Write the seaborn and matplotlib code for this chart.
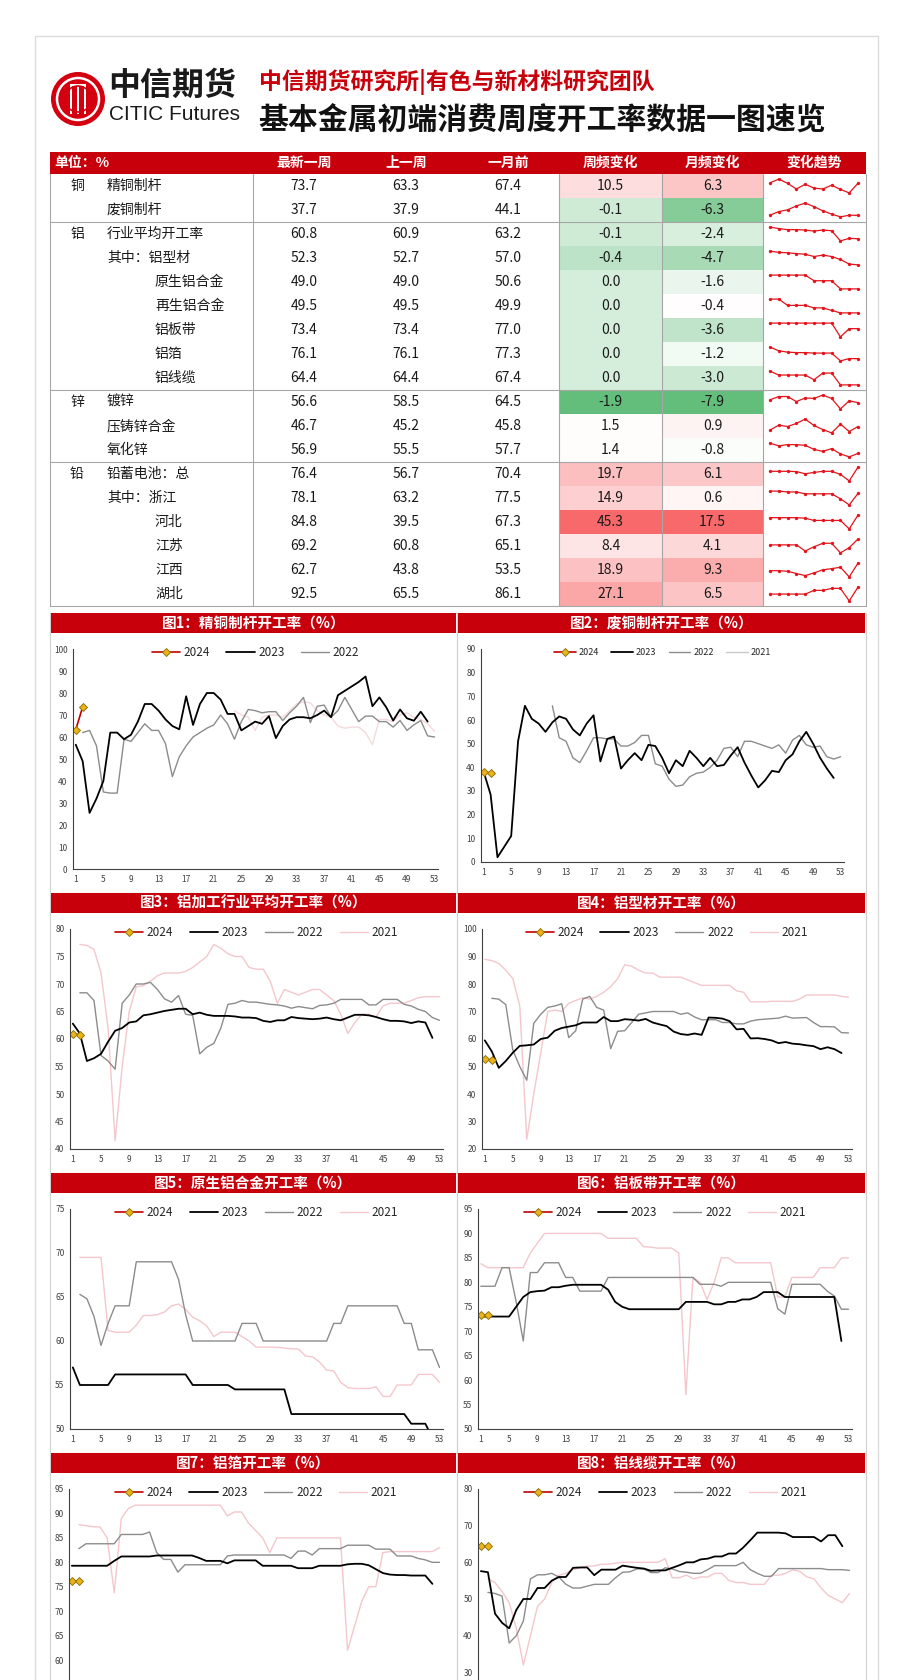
import numpy as np
import pandas as pd
import matplotlib
matplotlib.use("Agg")
import matplotlib.pyplot as plt
import seaborn as sns
from matplotlib.patches import Rectangle, Circle
from matplotlib.lines import Line2D
from matplotlib.colors import LinearSegmentedColormap, TwoSlopeNorm

nan = np.nan
W, H = 915, 1680

# -----------------------------
# Table data
# -----------------------------
metals = ["铜", "", "铝", "", "", "", "", "", "", "锌", "", "", "铅", "", "", "", "", ""]
items = ["精铜制杆", "废铜制杆", "行业平均开工率", "其中：铝型材", "原生铝合金", "再生铝合金",
         "铝板带", "铝箔", "铝线缆", "镀锌", "压铸锌合金", "氧化锌", "铅蓄电池：总",
         "其中：浙江", "河北", "江苏", "江西", "湖北"]
sub_items = [0, 0, 0, 0, 1, 1, 1, 1, 1, 0, 0, 0, 0, 0, 1, 1, 1, 1]
latest = [73.7, 37.7, 60.8, 52.3, 49.0, 49.5, 73.4, 76.1, 64.4, 56.6, 46.7, 56.9, 76.4, 78.1, 84.8, 69.2, 62.7, 92.5]
prev_week = [63.3, 37.9, 60.9, 52.7, 49.0, 49.5, 73.4, 76.1, 64.4, 58.5, 45.2, 55.5, 56.7, 63.2, 39.5, 60.8, 43.8, 65.5]
month_ago = [67.4, 44.1, 63.2, 57.0, 50.6, 49.9, 77.0, 77.3, 67.4, 64.5, 45.8, 57.7, 70.4, 77.5, 67.3, 65.1, 53.5, 86.1]
wow_change = [10.5, -0.1, -0.1, -0.4, 0.0, 0.0, 0.0, 0.0, 0.0, -1.9, 1.5, 1.4, 19.7, 14.9, 45.3, 8.4, 18.9, 27.1]
mom_change = [6.3, -6.3, -2.4, -4.7, -1.6, -0.4, -3.6, -1.2, -3.0, -7.9, 0.9, -0.8, 6.1, 0.6, 17.5, 4.1, 9.3, 6.5]

# last 11 weekly readings behind each sparkline
trend_rows = [
    [74, 78, 73.5, 67.5, 72.5, 68.5, 67.4, 71.5, 67, 63.3, 73.7],
    [38, 43, 45.5, 51, 55, 50, 44.1, 39.5, 35.5, 37.9, 37.7],
    [64.0, 63.6, 63.3, 63.3, 63.2, 62.9, 63.2, 63.0, 60.2, 60.9, 60.8],
    [58.9, 58.3, 58.1, 57.7, 57.4, 56.3, 57.0, 56.3, 54.9, 52.7, 52.3],
    [51.7, 51.7, 51.7, 51.7, 51.7, 50.6, 50.6, 50.6, 49.0, 49.0, 49.0],
    [50.6, 50.6, 50.1, 50.1, 50.1, 49.9, 49.9, 49.7, 49.5, 49.5, 49.5],
    [77.0, 77.0, 77.0, 77.0, 77.0, 77.0, 77.0, 77.0, 68.0, 73.4, 73.4],
    [78.6, 77.8, 77.5, 77.4, 77.4, 77.3, 77.3, 77.3, 75.6, 76.1, 76.1],
    [67.9, 66.9, 66.9, 66.9, 66.9, 65.7, 67.4, 67.4, 64.4, 64.4, 64.4],
    [59.5, 63, 63, 57.7, 61.5, 61, 64.5, 61, 50, 58.5, 56.6],
    [45.6, 47.1, 46.7, 47.6, 48.9, 47.0, 45.8, 44.8, 47.4, 45.2, 46.7],
    [61.0, 59.9, 60.4, 60.4, 60.1, 58.5, 57.7, 58.8, 56.7, 55.5, 56.9],
    [70.4, 70.4, 70.4, 70.0, 66.9, 68.8, 70.4, 70.4, 66.0, 56.7, 76.4],
    [81.0, 81.0, 79.9, 79.9, 77.5, 77.5, 77.5, 77.5, 71.1, 63.2, 78.1],
    [76.4, 76.4, 76.4, 76.4, 74.6, 67.3, 67.3, 67.3, 67.3, 39.5, 84.8],
    [63.5, 63.5, 63.5, 63.5, 57.5, 61.6, 65.1, 65.1, 55.6, 60.8, 69.2],
    [52.3, 52.3, 51.5, 48.4, 45.6, 49.2, 53.5, 55.1, 57.0, 43.8, 62.7],
    [78.8, 78.8, 78.8, 78.8, 78.8, 86.1, 86.1, 90, 90, 65.5, 92.5],
]

# -----------------------------
# Weekly chart data (week 1..53)
# -----------------------------
weeks = list(range(1, 54))

c1_2024 = [63.3, 73.7]
c1_2023 = [56.5, 49, 25.5, 32, 40, 62, 62, 59, 61, 67, 75, 75, 72, 68, 65, 63.5, 78.5, 65.5, 75, 80,
           80, 77, 70.5, 70.5, 63, 65, 67, 66, 69.5, 59.5, 65, 68, 69, 69, 68.5, 70, 72, 69, 79, 81,
           83, 85, 87.5, 74, 78, 73.5, 67.5, 72.5, 68.5, 67.4, 71.5, 67]
c1_2022 = [nan, 62, 63, 56, 35, 34.5, 34.5, 59, 58, 62, 66, 63, 63, 57, 42, 51, 56, 60, 62, 64,
           65.5, 70, 66, 59, 67, 72.5, 72, 71, 71.5, 71.5, 67.5, 71, 74, 78, 66.5, 74, 74.5, 69, 72, 78,
           72.5, 67, 69.5, 69.5, 67, 67, 64.5, 67.5, 63, 65.5, 67.5, 60.5, 60]
c1_2021 = [nan, nan, nan, nan, nan, nan, nan, nan, nan, nan, nan, nan, nan, nan, nan, nan, nan, nan, nan, nan,
           nan, nan, nan, 72, 70, 69, 63, 69, 70, 70, 69, 72, 75, 76, 75.5, 72, 70, 69, 65, 64,
           64.5, 64.5, 62, 56.5, 68, 68, 67, 70, 71, 69, 68, 66, 62.5]

c2_2024 = [37.9, 37.7]
c2_2023 = [38, 28.5, 2, 6.5, 11, 51, 66, 60.5, 58.5, 55, 59, 61.5, 60.5, 56, 53.5, 58.5, 62, 42.5, 52, 53,
           39.5, 43, 46, 43, 49.5, 49, 44, 37.5, 43, 40.5, 47, 44, 40.5, 44, 40.5, 41, 45, 48.5, 42, 36.5,
           31.5, 34.5, 38.5, 38, 43, 45.5, 51, 55, 50, 44.1, 39.5, 35.5]
c2_2022 = [nan, nan, nan, nan, nan, nan, nan, nan, nan, nan, 66, 52.5, 51, 44, 42, 47, 52.5, 52.5, 52, 52,
           49, 49, 50.5, 53.5, 53.5, 41.5, 40.5, 35, 32, 32.5, 36, 37.5, 38, 40, 43, 48, 48.5, 44.5, 51, 51,
           50, 49, 48, 49.5, 46, 51.5, 53.5, 49.5, 48.5, 49, 44.5, 43.5, 44.5]
c2_2021 = []

c3_2024 = [60.9, 60.8]
c3_2023 = [62.8, 61, 56, 56.5, 57.3, 59.5, 61.5, 62, 63, 63.2, 64.3, 64.5, 64.8, 65.1, 65.3, 65.5, 65.5, 64.5, 64.8, 64.4,
           64.2, 64.2, 64.2, 64.1, 63.9, 63.9, 63.8, 63.3, 63.1, 63.4, 63.4, 64.0, 63.8, 63.7, 63.6, 63.7, 63.9, 63.6, 63.4, 63.9,
           64.4, 64.4, 64.3, 64.0, 63.6, 63.3, 63.3, 63.2, 62.9, 63.2, 63.0, 60.2]
c3_2022 = [nan, 68.4, 68.4, 67, 57, 56, 54.5, 66.5, 68, 70, 70, 70.3, 69, 67.3, 66.7, 67.9, 64.5, 64.3, 57.3, 58.5,
           59.2, 62, 66.3, 66.5, 67, 66.7, 66.7, 66.5, 66.3, 66.2, 66, 65.6, 65.9, 65.7, 65.5, 66.1, 66.2, 66.5, 67.2, 67.2,
           67.2, 67.2, 66.2, 66.2, 67.2, 67.2, 67.2, 66.3, 66, 65.4, 65, 63.9, 63.4]
c3_2021 = [nan, 77.2, 77, 76.3, 72, 62, 41.5, 55, 65, 69.5, 69.7, 70.5, 71.5, 72, 72, 72, 72.3, 73, 74, 75,
           77.2, 76.5, 75.5, 75, 75, 73, 72.7, 72.7, 70.5, 66.5, 69, 68.5, 68, 68.5, 69, 69, 68, 67, 64.5, 61,
           63, 64.5, 64.5, 64, 66, 66.5, 66.5, 66.5, 67, 67.5, 67.7, 67.7, 67.7]

c4_2024 = [52.7, 52.3]
c4_2023 = [59.5, 55.5, 49.5, 52, 55, 57.5, 57.7, 58, 60, 60.5, 63, 64, 64.5, 65, 66, 66, 66, 68, 66.5, 66.5,
           67.2, 67, 66.7, 67.3, 66, 65.3, 64.7, 62.7, 61.8, 61.5, 62, 61.5, 67.8, 67.7, 67.4, 66.5, 63.5, 63.7, 60.2, 60.3,
           60, 59.5, 58.5, 58.9, 58.3, 58.1, 57.7, 57.4, 56.3, 57.0, 56.3, 54.9]
c4_2022 = [nan, 74.8, 74.5, 72.5, 56, 50, 45, 65.7, 69, 71.5, 72, 72.8, 60.5, 63, 74.5, 75.5, 71.5, 70.5, 56.5, 62.8,
           63, 66, 69, 69.5, 70, 70, 70, 70, 69, 69.5, 68, 67, 67, 67, 66, 66, 65.5, 65.5, 66.5, 67,
           67.2, 67.4, 67.6, 68.3, 67.6, 67.7, 67.8, 66, 64.5, 64.5, 64.4, 62.3, 62.2]
c4_2021 = [89, 88.5, 87.5, 85, 82, 72, 23.5, 40, 55, 70, 70.5, 70, 73, 74, 75, 74.5, 75.5, 77, 79, 82,
           87, 86.5, 85, 84, 84, 82.5, 82.5, 82.5, 82.5, 81.5, 80.5, 79.5, 79.5, 79.5, 79.5, 79.5, 77.5, 77, 73.5, 73.5,
           73.5, 73.7, 73.7, 73.7, 73.7, 74.5, 76, 76, 76, 76, 76, 75.5, 75.2]

c5_2024 = [49.0, 49.0]
c5_2023 = [57, 55, 55, 55, 55, 55, 56.2, 56.2, 56.2, 56.2, 56.2, 56.2, 56.2, 56.2, 56.2, 56.2, 56.2, 55, 55, 55,
           55, 55, 55, 54.5, 54.5, 54.5, 54.5, 54.5, 54.5, 54.5, 54.5, 51.7, 51.7, 51.7, 51.7, 51.7, 51.7, 51.7, 51.7, 51.7,
           51.7, 51.7, 51.7, 51.7, 51.7, 51.7, 51.7, 51.7, 50.6, 50.6, 50.6, 49.0]
c5_2022 = [nan, 65.3, 64.8, 62.8, 59.5, 62, 64, 64, 64, 69, 69, 69, 69, 69, 69, 67, 63, 60, 60, 60,
           60, 60, 60, 60, 62, 62, 62, 60, 60, 60, 60, 60, 60, 60, 60, 60, 60, 62, 62, 64,
           64, 64, 64, 64, 64, 64, 64, 62, 62, 59, 59, 59, 57]
c5_2021 = [nan, 69.5, 69.5, 69.5, 69.5, 61.2, 61, 61, 61, 61.8, 62.9, 62.9, 63.0, 63.3, 64.0, 64.2, 63.6, 62.7, 62.3, 61.7,
           60.5, 61, 61, 61, 60.5, 60, 59.3, 59.3, 59.3, 59.3, 59.2, 59.1, 59.1, 58.3, 58.2, 57.6, 56.7, 56.6, 55.3, 54.7,
           54.6, 54.6, 54.6, 54.8, 53.7, 53.7, 55, 55, 55, 56.2, 56.2, 56.2, 55.3]

c6_2024 = [73.4, 73.4]
c6_2023 = [73, 73, 73, 73, 73, 75, 77, 78, 78.2, 78.3, 79, 79, 79.3, 79.5, 79.5, 79.5, 79.5, 79.5, 78.5, 76,
           75, 74.5, 74.5, 74.5, 74.5, 74.5, 74.5, 74.5, 74.5, 76, 76, 76, 76, 75.5, 75.5, 76, 76, 76.5, 76.5, 77,
           78, 78, 78, 77.0, 77.0, 77.0, 77.0, 77.0, 77.0, 77.0, 77.0, 68.0]
c6_2022 = [79.2, 79.2, 79.2, 83, 83, 76, 68, 82, 82, 84, 84, 84, 81, 81, 78.2, 78.2, 78.2, 78.2, 81, 81,
           81, 81, 81, 81, 81, 81, 81, 81, 81, 81, 81, 79.6, 79.6, 79.6, 79.2, 80, 80, 80, 80, 80,
           80, 80, 74.6, 73.5, 79.6, 79.6, 79.6, 79.6, 79.6, 78.2, 77.2, 74.5, 74.5]
c6_2021 = [83.8, 83, 83, 83, 83, 83, 83, 86, 88, 90, 90, 90, 90, 90, 90, 90, 90, 90, 89, 89,
           89, 89, 89, 87.3, 87.2, 87, 87, 87, 86, 57, 81, 80, 76.5, 80, 85, 85, 84, 84, 84, 84,
           84, 84, 77, 77, 81, 81, 81, 81, 83, 83, 83, 85, 85]

c7_2024 = [76.1, 76.1]
c7_2023 = [79.3, 79.3, 79.3, 79.3, 79.3, 79.3, 80.3, 81.2, 81.2, 81.2, 81.2, 81.2, 81.4, 81.4, 81.4, 81.4, 81.4, 81.4, 80.9, 80.3,
           80.3, 80.3, 79.8, 80.4, 80.4, 80.4, 80.4, 79.3, 79.3, 79.3, 79.3, 79.3, 78.8, 78.8, 78.8, 79.3, 79.3, 79.3, 79.3, 79.6,
           79.7, 79.7, 79.4, 78.6, 77.8, 77.5, 77.4, 77.4, 77.3, 77.3, 77.3, 75.6]
c7_2022 = [nan, 82.8, 83.8, 83.8, 83.8, 83.8, 83.8, 85.7, 85.7, 85.7, 85.7, 86.2, 82, 80.6, 80.6, 78, 79.5, 79.5, 79.5, 79.5,
           79.5, 79.5, 81.3, 81.5, 81.5, 81.5, 81.5, 81.5, 81.5, 81.5, 81.5, 80.8, 82.3, 82.3, 81.5, 82.8, 82.8, 82.8, 82.8, 83.5,
           83.5, 83.5, 83.5, 82.7, 82.7, 82.7, 81.3, 81.3, 81.3, 80.8, 80.5, 80, 80]
c7_2021 = [nan, 87.7, 87.5, 87.3, 87.2, 85, 73.8, 89, 91, 91.7, 91.7, 91.7, 91.7, 91.7, 91.7, 91.7, 91.7, 91.7, 91.7, 91.7,
           91.7, 91.7, 89.5, 90.3, 90.3, 88, 86.5, 85, 82, 85, 85, 85, 85, 85, 85, 85, 85, 85, 85, 62,
           67, 72, 75, 75, 82, 82.2, 82.2, 82.2, 82.2, 82.2, 82.2, 82.2, 83]

c8_2024 = [64.4, 64.4]
c8_2023 = [57.6, 57.3, 46, 43.5, 42, 47, 50, 50, 53, 53, 55, 56, 56, 58.5, 58.6, 58.6, 56.5, 58, 58, 58,
           59.1, 58.8, 58.5, 58.3, 57.7, 57.8, 57.8, 58.5, 59.2, 60, 60, 60.8, 61, 61.6, 61.6, 62.4, 62.4, 64, 66, 68.1,
           68.1, 68.1, 68.1, 67.9, 66.9, 66.9, 66.9, 66.9, 65.7, 67.4, 67.4, 64.4]
c8_2022 = [nan, 51.8, 51.5, 50.8, 38, 40, 44, 55.5, 56.6, 56.6, 57, 56, 54, 53, 53, 53.5, 54, 54, 54, 55.8,
           57.3, 57.4, 58.2, 58.2, 57.2, 57.2, 58.5, 58.2, 57.5, 57.3, 57, 57, 58, 59.1, 59.1, 59.1, 59.1, 60, 58, 57,
           56.2, 56.2, 58.3, 58.3, 58.3, 58.3, 58.3, 58.3, 58.3, 58, 58, 58, 57.8]
c8_2021 = [nan, 55.5, 54.5, 52, 49, 42, 32, 40, 48, 50, 54.5, 56.5, 57, 58, 58.5, 59, 59, 59.5, 59.5, 59.8,
           60, 60, 60, 60, 60, 60, 61, 55.8, 55.8, 56.5, 55.5, 56, 56, 57, 57, 55, 54.5, 54.5, 54, 54,
           54, 56.5, 56.5, 57, 58, 57.5, 56, 55.5, 53, 51, 50, 49, 51.5]

# -----------------------------
# Style
# -----------------------------
sns.set_style("white")
plt.rcParams["font.family"] = ["Noto Sans CJK SC", "DejaVu Sans"]
plt.rcParams["axes.unicode_minus"] = False

RED = "#C8000B"
LINE_2024 = "#C00000"
GOLD = "#E8B41A"
GRAY_LINE = "#a6a6a6"

fig = plt.figure(figsize=(W / 100, H / 100), dpi=100, facecolor="white")
page = fig.add_axes([0, 0, 1, 1])
page.set_xlim(0, W)
page.set_ylim(H, 0)
page.axis("off")


def px_axes(x0, y0, x1, y1):
    return fig.add_axes([x0 / W, 1 - y1 / H, (x1 - x0) / W, (y1 - y0) / H])


def pad(vals):
    return list(vals) + [nan] * (53 - len(vals))


# page frame
page.add_patch(Rectangle((35, 36), 843, 1700, fill=False, ec="#dcdcdc", lw=1))

# -----------------------------
# Logo and titles
# -----------------------------
page.add_patch(Circle((78, 99), 27, fc="#D40010", ec="none"))
page.add_patch(Circle((78, 99), 21, fill=False, ec="white", lw=1.8))
for bx in [69.5, 76.5, 83.5]:
    page.add_patch(Rectangle((bx, 84), 2.6, 30, fc="white", ec="none"))
page.add_patch(Rectangle((72, 84), 14, 2.4, fc="white", ec="none"))
page.add_patch(Circle((78, 99), 13, fill=False, ec="#D40010", lw=1.2))

page.text(108, 86, "中信期货", fontsize=23, fontweight="bold", color="#1a1a1a", ha="left", va="center")
page.text(109, 115, "CITIC Futures", fontsize=15, color="#1a1a1a", ha="left", va="center",
          family=["Liberation Sans Narrow", "Liberation Sans", "DejaVu Sans"])
page.text(259, 82, "中信期货研究所|有色与新材料研究团队", fontsize=16.5, fontweight="bold",
          color=RED, ha="left", va="center")
page.text(258, 121, "基本金属初端消费周度开工率数据一图速览", fontsize=21.5, fontweight="bold",
          color="#111111", ha="left", va="center")

# -----------------------------
# Table
# -----------------------------
TOP, ROW = 174, 24
page.add_patch(Rectangle((50, 152), 816, 22, fc=RED, ec="none"))
header_cols = [("最新一周", 304), ("上一周", 406), ("一月前", 508), ("周频变化", 610),
               ("月频变化", 712), ("变化趋势", 814)]
page.text(54, 163, "单位：%", fontsize=10, fontweight="bold", color="white", ha="left", va="center")
for name, cx in header_cols:
    page.text(cx, 163, name, fontsize=10, fontweight="bold", color="white", ha="center", va="center")

for i in range(len(items)):
    cy = TOP + i * ROW + ROW / 2
    if metals[i]:
        page.text(77, cy, metals[i], fontsize=10, ha="center", va="center", color="#1a1a1a")
    page.text(155 if sub_items[i] else 107, cy, items[i], fontsize=10, ha="left", va="center", color="#1a1a1a")
    for vals, cx in [(latest, 304), (prev_week, 406), (month_ago, 508)]:
        page.text(cx, cy, f"{vals[i]:.1f}", fontsize=10, ha="center", va="center", color="#1a1a1a")

# conditional colour columns
scale_cmap = LinearSegmentedColormap.from_list("scale3", ["#63BE7B", "#FFFFFF", "#F8696B"])
for vals, (x0, x1) in [(wow_change, (559, 662)), (mom_change, (662, 763))]:
    arr = np.array(vals).reshape(-1, 1)
    norm = TwoSlopeNorm(vmin=arr.min(), vcenter=np.median(arr), vmax=arr.max())
    axh = px_axes(x0, TOP, x1, TOP + ROW * len(items))
    sns.heatmap(arr, ax=axh, cmap=scale_cmap, norm=norm, annot=True, fmt=".1f", cbar=False,
                xticklabels=False, yticklabels=False,
                annot_kws={"fontsize": 10, "color": "#1a1a1a"})

# sparklines
for i, pts in enumerate(trend_rows):
    top = TOP + i * ROW
    axs = px_axes(766, top + 4, 862, top + 20)
    sns.lineplot(x=list(range(len(pts))), y=pts, ax=axs, color="#E3141B", linewidth=0.9,
                 marker="o", markersize=2.4, markeredgewidth=0)
    span = max(pts) - min(pts)
    axs.set_ylim(min(pts) - 0.08 * span, max(pts) + 0.08 * span)
    axs.set_xlim(-0.45, len(pts) - 0.55)
    axs.axis("off")

# -----------------------------
# Charts
# -----------------------------
charts = [
    dict(title="图1：精铜制杆开工率（%）", col=0, block=0, box=(73, 649, 438, 869),
         data={"2021": c1_2021, "2022": c1_2022, "2023": c1_2023, "2024": c1_2024},
         ylim=(0, 100), yticks=range(0, 101, 10), legend=["2024", "2023", "2022"], lsize=8.5,
         c2021="#F6D9DC", xlabels=True),
    dict(title="图2：废铜制杆开工率（%）", col=1, block=0, box=(481, 649, 844, 862),
         data={"2021": c2_2021, "2022": c2_2022, "2023": c2_2023, "2024": c2_2024},
         ylim=(0, 90), yticks=range(0, 91, 10), legend=["2024", "2023", "2022", "2021"], lsize=6.5,
         c2021="#c8c8c8", xlabels=True),
    dict(title="图3：铝加工行业平均开工率（%）", col=0, block=1, box=(70, 929, 443, 1149),
         data={"2021": c3_2021, "2022": c3_2022, "2023": c3_2023, "2024": c3_2024},
         ylim=(40, 80), yticks=range(40, 81, 5), legend=["2024", "2023", "2022", "2021"], lsize=8.5,
         c2021="#F4C7CC", xlabels=True),
    dict(title="图4：铝型材开工率（%）", col=1, block=1, box=(482, 929, 852, 1149),
         data={"2021": c4_2021, "2022": c4_2022, "2023": c4_2023, "2024": c4_2024},
         ylim=(20, 100), yticks=range(20, 101, 10), legend=["2024", "2023", "2022", "2021"], lsize=8.5,
         c2021="#F4C7CC", xlabels=True),
    dict(title="图5：原生铝合金开工率（%）", col=0, block=2, box=(70, 1209, 443, 1429),
         data={"2021": c5_2021, "2022": c5_2022, "2023": c5_2023, "2024": c5_2024},
         ylim=(50, 75), yticks=range(50, 76, 5), legend=["2024", "2023", "2022", "2021"], lsize=8.5,
         c2021="#F4C7CC", xlabels=True),
    dict(title="图6：铝板带开工率（%）", col=1, block=2, box=(478, 1209, 852, 1429),
         data={"2021": c6_2021, "2022": c6_2022, "2023": c6_2023, "2024": c6_2024},
         ylim=(50, 95), yticks=range(50, 96, 5), legend=["2024", "2023", "2022", "2021"], lsize=8.5,
         c2021="#F4C7CC", xlabels=True),
    # the last two panels run past the bottom edge of the page; only the visible ticks are labelled
    dict(title="图7：铝箔开工率（%）", col=0, block=3, box=(69, 1489, 443, 1709),
         data={"2021": c7_2021, "2022": c7_2022, "2023": c7_2023, "2024": c7_2024},
         ylim=(50, 95), yticks=range(60, 96, 5), legend=["2024", "2023", "2022", "2021"], lsize=8.5,
         c2021="#F4C7CC", xlabels=False),
    dict(title="图8：铝线缆开工率（%）", col=1, block=3, box=(478, 1489, 853, 1709),
         data={"2021": c8_2021, "2022": c8_2022, "2023": c8_2023, "2024": c8_2024},
         ylim=(20, 80), yticks=range(30, 81, 10), legend=["2024", "2023", "2022", "2021"], lsize=8.5,
         c2021="#F4C7CC", xlabels=False),
]

panel_x = [(50, 457), (457, 866)]
for spec in charts:
    px0, px1 = panel_x[spec["col"]]
    by = 613 + spec["block"] * 280
    # panel outline + red title bar
    page.add_patch(Rectangle((px0, by), px1 - px0, 280, fill=False, ec="#d0d0d0", lw=0.8))
    page.add_patch(Rectangle((px0 + 0.5, by), px1 - px0 - 1.5, 20, fc=RED, ec="none"))
    page.text((px0 + px1) / 2, by + 10, spec["title"], fontsize=10.5, fontweight="bold",
              color="white", ha="center", va="center")

    ax = px_axes(*spec["box"])
    styles = {
        "2021": dict(color=spec["c2021"], linewidth=1.0),
        "2022": dict(color="#8c8c8c", linewidth=1.0),
        "2023": dict(color="black", linewidth=1.3),
        "2024": dict(color=LINE_2024, linewidth=1.2, marker="D", markersize=4.5,
                     markerfacecolor=GOLD, markeredgecolor="#8a6a00", markeredgewidth=0.6),
    }
    for year in ["2021", "2022", "2023", "2024"]:
        df = pd.DataFrame({"week": weeks, "rate": pad(spec["data"][year])}).dropna()
        if df.empty:
            continue
        sns.lineplot(data=df, x="week", y="rate", ax=ax, legend=False, **styles[year])

    ax.set_xlim(0.6, 53.5)
    ax.set_ylim(*spec["ylim"])
    ax.set_yticks(list(spec["yticks"]))
    ax.set_xticks(list(range(1, 54, 4)))
    ax.set_xlabel("")
    ax.set_ylabel("")
    for side in ["top", "right"]:
        ax.spines[side].set_visible(False)
    for side in ["left", "bottom"]:
        ax.spines[side].set_color("#404040")
        ax.spines[side].set_linewidth(0.8)
    ax.tick_params(labelsize=6, colors="#404040", length=2, width=0.6, pad=2)
    if not spec["xlabels"]:
        ax.tick_params(axis="x", labelbottom=False)

    handles = [Line2D([], [], **styles[year]) for year in spec["legend"]]
    ax.legend(handles, spec["legend"], loc="center", bbox_to_anchor=(0.5, 0.985),
              ncol=len(spec["legend"]), frameon=False, fontsize=spec["lsize"],
              handlelength=2.4, handletextpad=0.3, columnspacing=1.4)

# -----------------------------
# Table grid lines on top
# -----------------------------
over = fig.add_axes([0, 0, 1, 1], facecolor="none")
over.set_xlim(0, W)
over.set_ylim(H, 0)
over.axis("off")
bottom = TOP + ROW * len(items)
for x in [50, 253, 559, 662, 763, 866]:
    over.plot([x, x], [TOP, bottom], color=GRAY_LINE, lw=0.8)
for y in [TOP + 2 * ROW, TOP + 9 * ROW, TOP + 12 * ROW, bottom]:
    over.plot([50, 866], [y, y], color=GRAY_LINE, lw=0.8)

fig.savefig("out.png", dpi=100, facecolor="white")
